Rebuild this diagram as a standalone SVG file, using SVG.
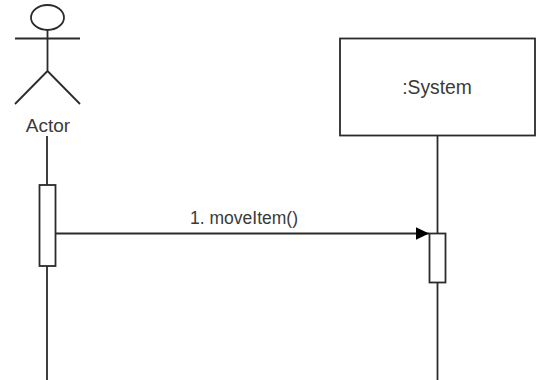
<svg xmlns="http://www.w3.org/2000/svg" width="544" height="380" viewBox="0 0 544 380">
<style>
.s{fill:none;stroke:#2b2b2b;stroke-width:1.800}
.b{fill:#fff;stroke:#2b2b2b;stroke-width:1.800}
text{font-family:"Liberation Sans",Arial,sans-serif;fill:#3a3a3a}
</style>
<defs><marker id="a" markerUnits="userSpaceOnUse" markerWidth="14" markerHeight="14" refX="13.500" refY="7" orient="auto"><path d="M0 0.500L13.500 7L0 13.500Z" fill="#000"/></marker></defs>
<rect width="544" height="380" fill="#fff"/>
<g id="connectors">
<path class="s" d="M47 136V185"/>
<path class="s" d="M47 266V380"/>
<path class="s" d="M437.500 136V233"/>
<path class="s" d="M437.500 283V380"/>
<path class="s" d="M56 233.500H429" marker-end="url(#a)"/>
<text x="244" y="224" font-size="17.500" text-anchor="middle">1. moveItem()</text>
</g>
<g id="actor">
<ellipse class="s" cx="47.500" cy="17.500" rx="16.500" ry="12.500"/>
<path class="s" d="M47.500 30V71M15 38.500H80M47.500 71L15 104M47.500 71L80 104"/>
<text x="48" y="132" font-size="19" text-anchor="middle">Actor</text>
</g>
<g id="system">
<rect class="b" x="340" y="38.500" width="195" height="97"/>
<text x="437" y="94" font-size="19.300" text-anchor="middle">:System</text>
</g>
<g id="activation-actor"><rect class="b" x="39.500" y="185" width="16" height="81"/></g>
<g id="activation-system"><rect class="b" x="429.500" y="233.500" width="16" height="49"/></g>
</svg>
